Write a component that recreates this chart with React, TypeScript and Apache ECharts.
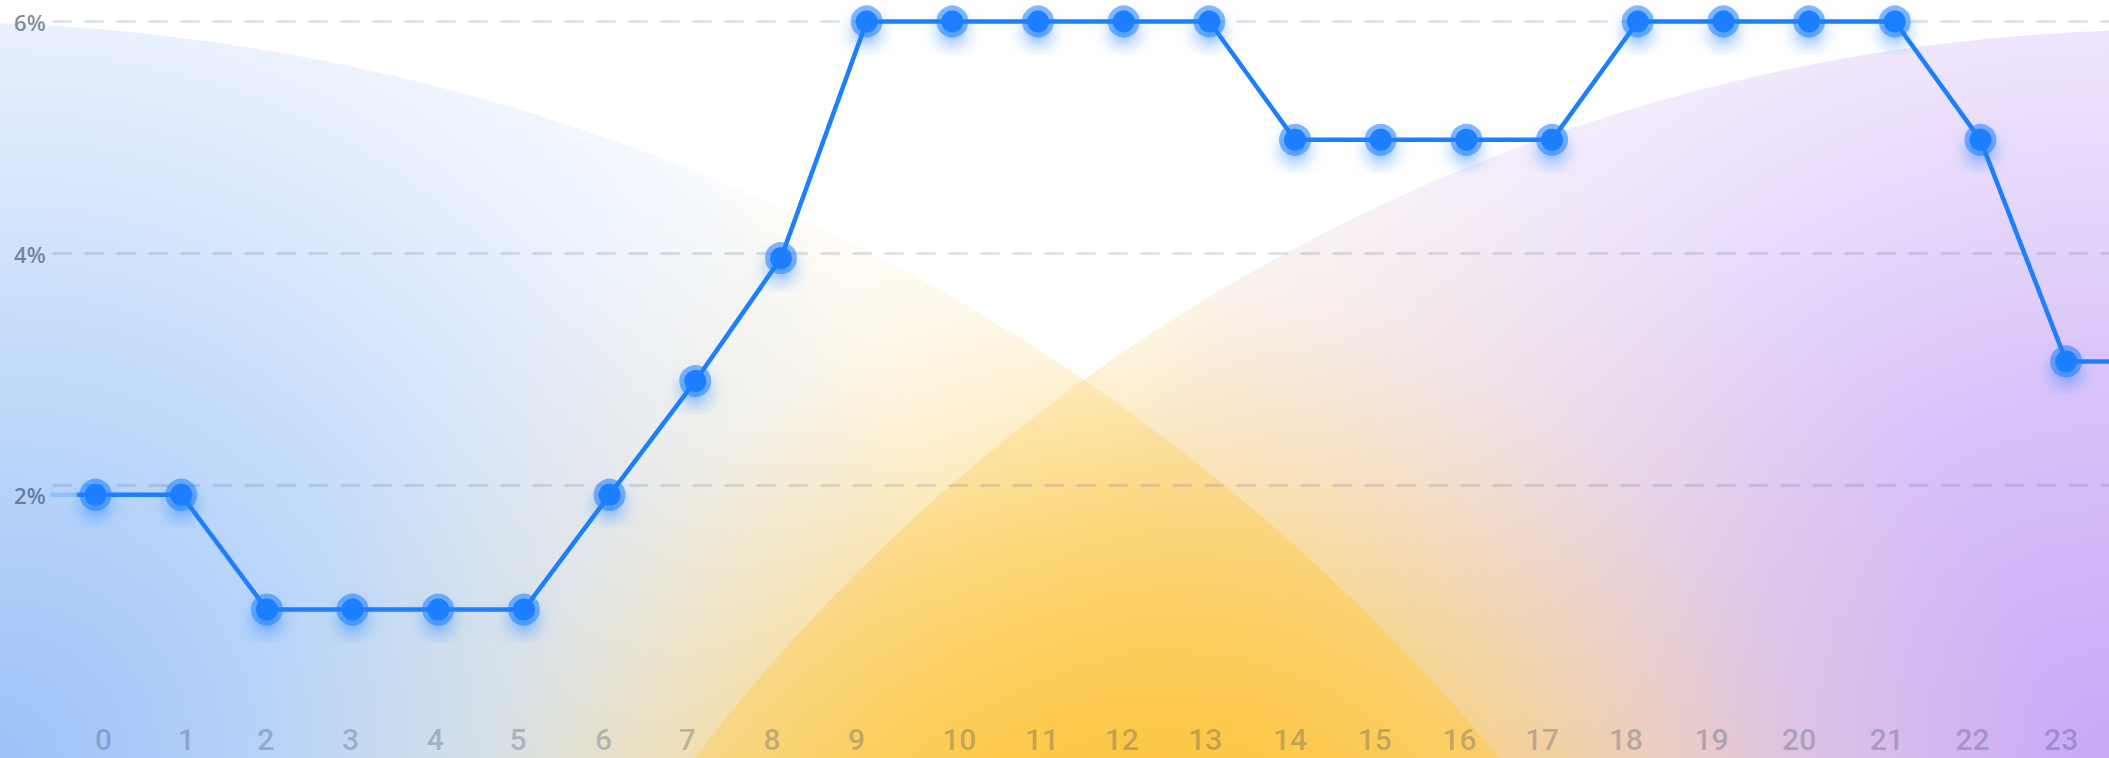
import React, { useEffect, useRef } from 'react';
import * as echarts from 'echarts';

// ---- data ----
const hours = ['0', '1', '2', '3', '4', '5', '6', '7', '8', '9', '10', '11', '12', '13', '14', '15', '16', '17', '18', '19', '20', '21', '22', '23'];
const rates = [1.92, 1.92, 0.93, 0.93, 0.93, 0.93, 1.92, 2.9, 3.96, 6, 6, 6, 6, 6, 4.98, 4.98, 4.98, 4.98, 6, 6, 6, 6, 4.98, 3.07];
const yMin = 0;
const yMax = 6;
const yStep = 2;

// horizontal nudge (px) of each hour label relative to its band centre, as in the reference
const labelNudge = [8, 5, -1, -2, -3, -6, -6, -8, -9, -10, 7, 4, -2, -4, -5, -6, -7, -10, -12, -12, -10, -8, -8, -5];

const W = 2109;
const H = 758;

export default function App() {
  const ref = useRef<HTMLDivElement>(null);

  useEffect(() => {
    const el = ref.current as HTMLDivElement;
    const chart = echarts.init(el, null, { renderer: 'svg' });

    const blue = new echarts.graphic.RadialGradient(0, H, 1000, [
      { offset: 0, color: 'rgba(156,194,248,1)' },
      { offset: 0.4, color: 'rgba(194,219,250,1)' },
      { offset: 0.7, color: 'rgba(226,236,253,0.9)' },
      { offset: 0.9, color: 'rgba(240,246,254,0.6)' },
      { offset: 1, color: 'rgba(255,255,255,0)' },
    ], true);
    const purple = new echarts.graphic.RadialGradient(W, H, 1100, [
      { offset: 0, color: 'rgba(200,168,248,1)' },
      { offset: 0.35, color: 'rgba(218,196,250,1)' },
      { offset: 0.65, color: 'rgba(236,225,253,0.9)' },
      { offset: 0.9, color: 'rgba(246,240,254,0.6)' },
      { offset: 1, color: 'rgba(255,255,255,0)' },
    ], true);
    const mkYellow = () => new echarts.graphic.RadialGradient(1150, 1000, 950, [
      { offset: 0, color: 'rgba(253,196,60,0.92)' },
      { offset: 0.25, color: 'rgba(253,198,66,0.88)' },
      { offset: 0.5, color: 'rgba(252,205,90,0.55)' },
      { offset: 0.75, color: 'rgba(252,215,130,0.16)' },
      { offset: 1, color: 'rgba(252,220,150,0)' },
    ], true);

    const leftShape = { cx: -73, cy: 2070, r: 2048 };
    const rightShape = { cx: 2168, cy: 1885, r: 1855 };

    const lineColor = new echarts.graphic.LinearGradient(0, 0, W, 0, [
      { offset: 0, color: 'rgba(27,127,255,0.22)' },
      { offset: 0.036, color: 'rgba(27,127,255,0.22)' },
      { offset: 0.037, color: '#1b7fff' },
      { offset: 1, color: '#1b7fff' },
    ], true);

    const points: any[] = rates.map((v, i) => [i, v]);
    points.unshift({ value: [-2, rates[0]], symbol: 'none' });
    points.push({ value: [rates.length + 1, rates[rates.length - 1]], symbol: 'none' });

    const labelFont = 'Open Sans, Noto Sans, sans-serif';
    const xLabelStyle = {
      fontSize: 30,
      lineHeight: 30,
      fontWeight: 500,
      fontFamily: 'Roboto, Open Sans, sans-serif',
      color: 'rgba(50,66,96,0.3)',
    };
    const xRich: Record<string, any> = {};
    labelNudge.forEach((n, i) => {
      xRich['h' + i] = {
        ...xLabelStyle,
        padding: n >= 0 ? [0, 0, 0, 2 * n] : [0, -2 * n, 0, 0],
      };
    });

    chart.setOption({
      animation: false,
      backgroundColor: '#ffffff',
      graphic: [
        { type: 'circle', z: -10, silent: true, shape: leftShape, style: { fill: blue } },
        { type: 'circle', z: -10, silent: true, shape: rightShape, style: { fill: purple } },
        { type: 'circle', z: -10, silent: true, shape: leftShape, style: { fill: mkYellow() } },
        { type: 'circle', z: -10, silent: true, shape: rightShape, style: { fill: mkYellow() } },
      ],
      grid: { left: 52.7, width: 2065.4, top: 21.5, bottom: 40.5, containLabel: false },
      xAxis: [
        {
          type: 'category',
          data: hours,
          boundaryGap: true,
          axisLine: { show: false },
          axisTick: { show: false },
          splitLine: { show: false },
          axisLabel: {
            interval: 0,
            margin: 7,
            ...xLabelStyle,
            formatter: (v: string, i: number) => `{h${i}|${v}}`,
            rich: xRich,
          },
        },
        {
          type: 'value',
          show: false,
          min: -0.5,
          max: hours.length - 0.5,
        },
      ],
      yAxis: {
        type: 'value',
        min: yMin,
        max: yMax,
        interval: yStep,
        axisLine: { show: false },
        axisTick: { show: false },
        splitLine: {
          show: true,
          showMinLine: false,
          lineStyle: { type: [19, 13], width: 3, color: 'rgba(80,100,140,0.18)' },
        },
        axisLabel: {
          showMinLabel: false,
          margin: 7,
          formatter: (v: number) => (v === 2 ? `{low|${v}%}` : `{n|${v}%}`),
          rich: {
            n: { fontSize: 22, fontWeight: 600, fontFamily: labelFont, color: 'rgba(50,66,96,0.6)' },
            low: { fontSize: 22, fontWeight: 600, fontFamily: labelFont, color: 'rgba(50,66,96,0.6)', padding: [19, 0, 0, 0] },
          },
        },
      },
      series: [
        {
          type: 'line',
          xAxisIndex: 1,
          data: points,
          clip: false,
          symbol: 'circle',
          symbolSize: 22,
          showAllSymbol: true,
          lineStyle: { color: lineColor, width: 4.5 },
          itemStyle: {
            color: '#1b7fff',
            borderColor: 'rgba(27,127,255,0.55)',
            borderWidth: 10,
            shadowBlur: 16,
            shadowColor: 'rgba(27,127,255,0.55)',
            shadowOffsetY: 10,
          },
          emphasis: { disabled: true },
          z: 5,
        },
      ],
    });

    return () => chart.dispose();
  }, []);

  return (
    <div
      ref={ref}
      style={{ position: 'fixed', left: 0, top: 0, width: W, height: H, background: '#fff' }}
    />
  );
}
